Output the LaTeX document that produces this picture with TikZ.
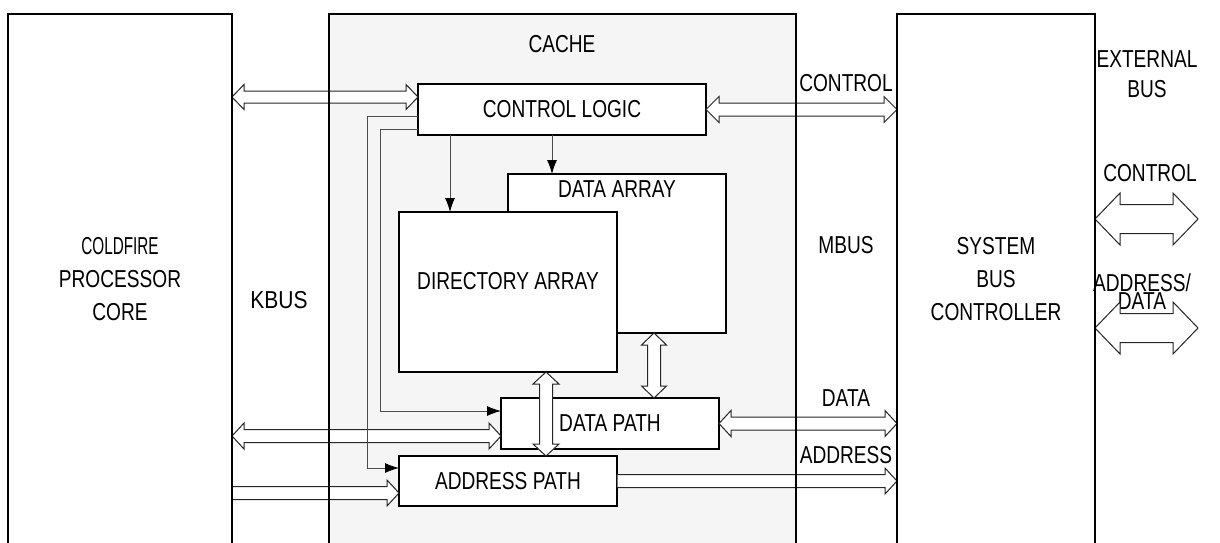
\documentclass[tikz,border=0pt]{standalone}
\usepackage{fontspec}
\setmainfont{Liberation Sans}[FakeStretch=0.78]
\usetikzlibrary{calc,arrows.meta}

\newcommand{\busboth}[5]{%
  \draw[bus] let \p1=#1, \p2=#2 in
    (\x1,\y1) -- (\x1+#5,\y1+#4) -- (\x1+#5,\y1+#3) -- (\x2-#5,\y1+#3) -- (\x2-#5,\y1+#4)
    -- (\x2,\y1) -- (\x2-#5,\y1-#4) -- (\x2-#5,\y1-#3) -- (\x1+#5,\y1-#3) -- (\x1+#5,\y1-#4) -- cycle;}
\newcommand{\busto}[5]{%
  \draw[bus] let \p1=#1, \p2=#2 in
    (\x1,\y1+#3) -- (\x2-#5,\y1+#3) -- (\x2-#5,\y1+#4) -- (\x2,\y1)
    -- (\x2-#5,\y1-#4) -- (\x2-#5,\y1-#3) -- (\x1,\y1-#3) -- cycle;}
\newcommand{\busvert}[5]{%
  \draw[bus] let \p1=#1, \p2=#2 in
    (\x1,\y1) -- (\x1+#4,\y1-#5) -- (\x1+#3,\y1-#5) -- (\x1+#3,\y2+#5) -- (\x1+#4,\y2+#5)
    -- (\x1,\y2) -- (\x1-#4,\y2+#5) -- (\x1-#3,\y2+#5) -- (\x1-#3,\y1-#5) -- (\x1-#4,\y1-#5) -- cycle;}

\begin{document}
\begin{tikzpicture}[x=1pt,y=-1pt,font=\fontsize{24.5}{33}\selectfont,
    frame/.style={draw=black,line width=2pt},
    blk/.style={draw=black,line width=1.2pt,fill=white,inner sep=0pt,outer sep=0pt},
    bus/.style={draw=black!85,fill=white,line width=1pt},
    ctl/.style={draw=black!70,line width=0.9pt},
    tip/.style={-{Latex[length=14pt,width=10pt,black]}}]
          \useasboundingbox (0,0) rectangle (1220,542);
          \clip (0,0) rectangle (1220,542);
          \node[inner sep=0pt,outer sep=0pt,minimum width=224,minimum height=530,align=center] (CORE) at (120,279) {\scalebox{0.8}[1]{COLDFIRE}\\PROCESSOR\\CORE};
          \node[fill=black!4,inner sep=0pt,outer sep=0pt,minimum width=467,minimum height=530] (CACHE) at (562.5,279) {};
          \node[inner sep=0pt,outer sep=0pt,minimum width=198,minimum height=530,align=center] (SBC) at (996,279) {SYSTEM\\BUS\\CONTROLLER};
          \node (CACHET) at (562,44) {CACHE};
          \node (KBUS) at (279,300) {\scalebox{1.1}[1]{KBUS}};
          \node (MBUS) at (846,245) {MBUS};
          \node[align=center,font=\fontsize{24.5}{30}\selectfont] (EXTBUS) at (1147,74) {EXTERNAL\\BUS};
          \node[blk,minimum width=218,minimum height=159] (DA) at (617,253.5) {};
          \node (DAT) at (617,189) {DATA ARRAY};
          \node[blk,minimum width=218,minimum height=160] (DIR) at (508,292) {};
          \node (DIRT) at (508,281) {DIRECTORY ARRAY};
          \node[blk,minimum width=288,minimum height=51] (CL) at (562,109.5) {CONTROL LOGIC};
          \node[blk,minimum width=218,minimum height=51] (DP) at (610,423.5) {DATA PATH};
          \node[blk,minimum width=218,minimum height=50] (AP) at (508,481) {ADDRESS PATH};
          \node (CTLL) at (846,83) {CONTROL};
          \node (DATAL) at (846,398) {DATA};
          \node (ADDRL) at (846,455) {ADDRESS};
          \node (EXTCTL) at (1150,173) {CONTROL};
          \node[align=center,font=\fontsize{24.5}{13}\selectfont] (EXTAD) at (1142,292) {ADDRESS/\\DATA};
          \coordinate (EXT) at (1198,0);
          \busboth{(CORE.east |- 0,97)}{(CL.west |- 0,97)}{6pt}{12.5pt}{12pt}
          \busboth{(CL.east)}{(SBC.west |- CL.east)}{6.5pt}{13pt}{13pt}
          \busboth{(CORE.east |- 0,436)}{(DP.west |- 0,436)}{6.5pt}{13pt}{12pt}
          \busboth{(DP.east)}{(SBC.west |- DP.east)}{6.5pt}{13pt}{12pt}
          \busto{(CORE.east |- 0,493)}{(AP.west |- 0,493)}{6.5pt}{13pt}{12pt}
          \busto{(AP.east)}{(SBC.west |- AP.east)}{6.5pt}{13pt}{12pt}
          \busvert{(DIR.south -| 546,0)}{(AP.north -| 546,0)}{6.5pt}{13pt}{12pt}
          \busvert{(DA.south -| 654,0)}{(DP.north -| 654,0)}{6.5pt}{12.5pt}{12pt}
          \busboth{(SBC.east |- 0,219)}{(EXT |- 0,219)}{14.5pt}{26pt}{25pt}
          \busboth{(SBC.east |- 0,328)}{(EXT |- 0,328)}{14.5pt}{26pt}{25pt}
          \draw[ctl,tip] (CL.west |- 0,116) -| (367,468) -- (AP.west |- 0,468);
          \draw[ctl,tip] (CL.west |- 0,129) -| (380,411) -- (DP.west |- 0,411);
          \draw[ctl,tip] (CL.south -| 450,0) -- (DIR.north -| 450,0);
          \draw[ctl,tip] (CL.south -| 552,0) -- (DA.north -| 552,0);
          \draw[frame] (CORE.south west) rectangle (CORE.north east);
          \draw[frame] (CACHE.south west) rectangle (CACHE.north east);
          \draw[frame] (SBC.south west) rectangle (SBC.north east);
        \end{tikzpicture}
\end{document}
